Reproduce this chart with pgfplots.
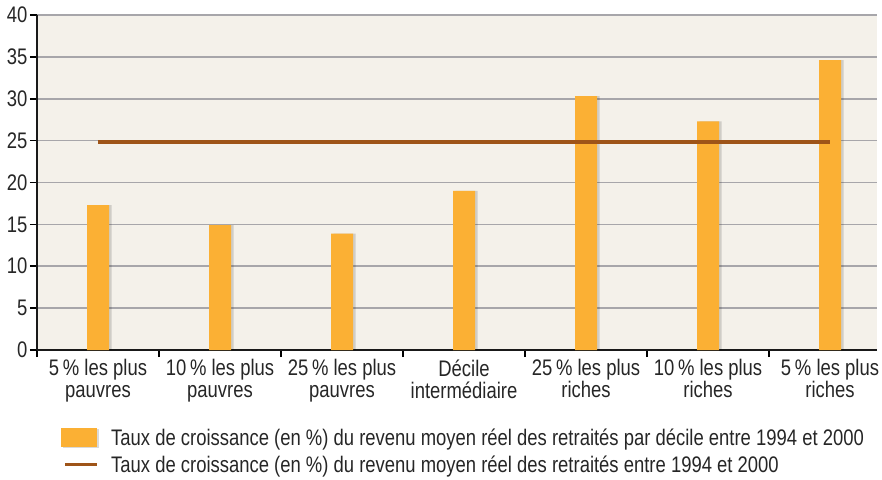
\documentclass[border=0pt]{standalone}
\usepackage{fontspec}
\setmainfont{Liberation Sans}[FakeStretch=0.82]
\usepackage{pgfplots}
\pgfplotsset{compat=1.18}

\definecolor{bgcol}{HTML}{F4F1EA}
\definecolor{barcol}{HTML}{FBB034}
\definecolor{linecol}{HTML}{9E5418}
\definecolor{gridcol}{HTML}{A7A6AA}

\newcommand{\chartfont}{\fontsize{22.5bp}{22bp}\selectfont}

\begin{document}
\begin{tikzpicture}
\useasboundingbox (-37bp,-130bp) rectangle (845bp,350bp);
\begin{axis}[
    scale only axis,
    width=840bp, height=335bp,
    xmin=-0.5, xmax=6.385,
    ymin=0, ymax=40,
    axis x line*=bottom, axis y line*=left,
    axis line style={line width=2.6bp, black!90, -},
    axis background/.style={fill=bgcol},
    ytick={0,5,...,40},
    ymajorgrids,
    grid style={draw=gridcol, line width=1.6bp},
    tick align=outside,
    major tick length=7bp,
    minor tick length=7bp,
    major y tick style={line width=1.6bp, black},
    major x tick style={draw=none},
    minor x tick style={line width=1.6bp, black},
    xtick={0,1,2,3,4,5,6},
    minor xtick={-0.5,0.5,1.5,2.5,3.5,4.5,5.5},
    xticklabels={
        {5\,\% les plus\\pauvres},
        {10\,\% les plus\\pauvres},
        {25\,\% les plus\\pauvres},
        {Décile\\intermédiaire},
        {25\,\% les plus\\riches},
        {10\,\% les plus\\riches},
        {5\,\% les plus\\riches}},
    x tick label style={align=center, font=\chartfont, text=black!85, yshift=1bp},
    y tick label style={font=\chartfont, text=black!85, xshift=1bp},
    /pgf/number format/assume math mode=true,
    legend style={
        at={(axis description cs:0.025,-0.222)},
        anchor=north west,
        draw=none, fill=none,
        font=\chartfont,
        row sep=5bp,
        text=black!85,
    },
    legend cell align=left,
]
    % shadow of the bars
    \addplot[ybar, bar width=22bp, bar shift=2.5bp, fill=black, draw=none,
        opacity=0.15, forget plot] coordinates {
        (0,17.3) (1,14.9) (2,13.9) (3,19.0) (4,30.3) (5,27.3) (6,34.6)
    };
    \addplot[ybar, bar width=22bp, bar shift=0bp, fill=barcol, draw=none,
        legend image code/.code={
            \path[draw=none, fill=none] (0bp,0bp) -- (48bp,0bp);
            \fill[black, opacity=0.15] (2bp,-10bp) rectangle (38bp,9bp);
            \fill[barcol] (0bp,-9bp) rectangle (36bp,10bp);}]
        coordinates {
        (0,17.3) (1,14.9) (2,13.9) (3,19.0) (4,30.3) (5,27.3) (6,34.6)
    };
    \addlegendentry{Taux de croissance (en \%) du revenu moyen réel des retraités par décile entre 1994 et 2000}
    \addplot[linecol, line width=4bp,
        legend image code/.code={
            \path[draw=none, fill=none] (0bp,0bp) -- (48bp,0bp);
            \draw[linecol, line width=2.5bp] (4bp,0) -- (36bp,0);}]
        coordinates {(0,24.8) (6,24.8)};
    \addlegendentry{Taux de croissance (en \%) du revenu moyen réel des retraités entre 1994 et 2000}
\end{axis}
\end{tikzpicture}
\end{document}
